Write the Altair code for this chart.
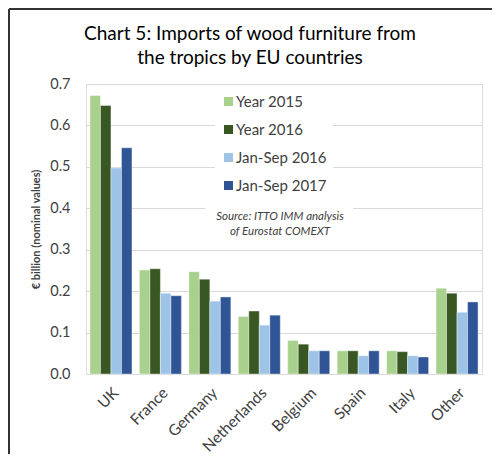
import altair as alt
import pandas as pd

countries = ["UK", "France", "Germany", "Netherlands", "Belgium", "Spain", "Italy", "Other"]
series = ["Year 2015", "Year 2016", "Jan-Sep 2016", "Jan-Sep 2017"]
year_2015 = [0.672, 0.251, 0.247, 0.139, 0.081, 0.056, 0.056, 0.207]
year_2016 = [0.648, 0.254, 0.229, 0.152, 0.072, 0.056, 0.054, 0.195]
jan_sep_2016 = [0.497, 0.195, 0.176, 0.118, 0.056, 0.044, 0.044, 0.149]
jan_sep_2017 = [0.546, 0.189, 0.186, 0.142, 0.056, 0.056, 0.041, 0.174]
colors = ["#A9D18E", "#385723", "#9DC3E6", "#2F5597"]
title_lines = ["Chart 5: Imports of wood furniture from", "the tropics by EU countries"]
source_lines = ["Source: ITTO IMM analysis", "of Eurostat COMEXT"]
y_ticks = [0.0, 0.1, 0.2, 0.3, 0.4, 0.5, 0.6, 0.7]

rows = []
for s, vals in zip(series, [year_2015, year_2016, jan_sep_2016, jan_sep_2017]):
    for c, v in zip(countries, vals):
        rows.append({"country": c, "series": s, "value": v})
df = pd.DataFrame(rows)

FONT = "Lato"
W, H = 396, 290

bars = alt.Chart(df).mark_bar(stroke="white", strokeWidth=0.4).encode(
    x=alt.X("country:N", sort=countries, title=None,
            scale=alt.Scale(paddingInner=0.15, paddingOuter=0.08),
            axis=alt.Axis(labelAngle=-45, labelFontSize=15.5, labelColor="#404040",
                          labelFont=FONT, ticks=False, domainColor="#D9D9D9",
                          labelPadding=11)),
    xOffset=alt.XOffset("series:N", sort=series, scale=alt.Scale(paddingInner=0, paddingOuter=0)),
    y=alt.Y("value:Q", title="€ billion (nominal values)",
            scale=alt.Scale(domain=[0, 0.7], nice=False),
            axis=alt.Axis(values=y_ticks, format=".1f", labelFontSize=14.5, labelColor="#404040",
                          labelFont=FONT, gridColor="#D9D9D9", domain=False, ticks=False,
                          labelPadding=16, titleFontSize=11, titleFontWeight="bold",
                          titleColor="#404040", titleFont=FONT, titlePadding=8)),
    color=alt.Color("series:N", sort=series,
                    scale=alt.Scale(domain=series, range=colors),
                    legend=alt.Legend(title=None, orient="none", legendX=129, legendY=4,
                                      fillColor="white", padding=6, symbolType="square",
                                      symbolSize=81, symbolStrokeWidth=0, labelFontSize=15,
                                      labelFont=FONT, labelColor="#404040", rowPadding=12,
                                      symbolOffset=0, labelOffset=0)),
)

one = alt.Data(values=[{"a": 1}])


def text_line(txt, x, y, **kw):
    return alt.Chart(one).mark_text(font=FONT, align="center", **kw).encode(
        x=alt.value(x), y=alt.value(y), text=alt.value(txt)
    )


title1 = text_line(title_lines[0], 164, -44, fontSize=19, color="black", baseline="alphabetic")
title2 = text_line(title_lines[1], 164, -20, fontSize=19, color="black", baseline="alphabetic")

src_bg = alt.Chart(one).mark_rect(color="white").encode(
    x=alt.value(119), x2=alt.value(267), y=alt.value(117), y2=alt.value(156)
)
src1 = text_line(source_lines[0], 194, 133, fontStyle="italic", fontSize=11.5,
                 color="#404040", baseline="middle")
src2 = text_line(source_lines[1], 194, 148, fontStyle="italic", fontSize=11.5,
                 color="#404040", baseline="middle")
frame_top = alt.Chart(one).mark_rule(color="#333333", strokeWidth=2).encode(
    x=alt.value(-77), x2=alt.value(410), y=alt.value(-75)
)
frame_left = alt.Chart(one).mark_rule(color="#333333", strokeWidth=2).encode(
    x=alt.value(-77), y=alt.value(-75), y2=alt.value(370)
)

chart = alt.layer(bars, src_bg, src1, src2, title1, title2, frame_top, frame_left).properties(
    width=W, height=H,
    autosize=alt.AutoSizeParams(type="none"),
    padding={"left": 78, "top": 76, "right": 10, "bottom": 80},
).configure_view(stroke=None).configure(background="white")

chart.save("out.html", embed_options={"renderer": "svg", "actions": False})
